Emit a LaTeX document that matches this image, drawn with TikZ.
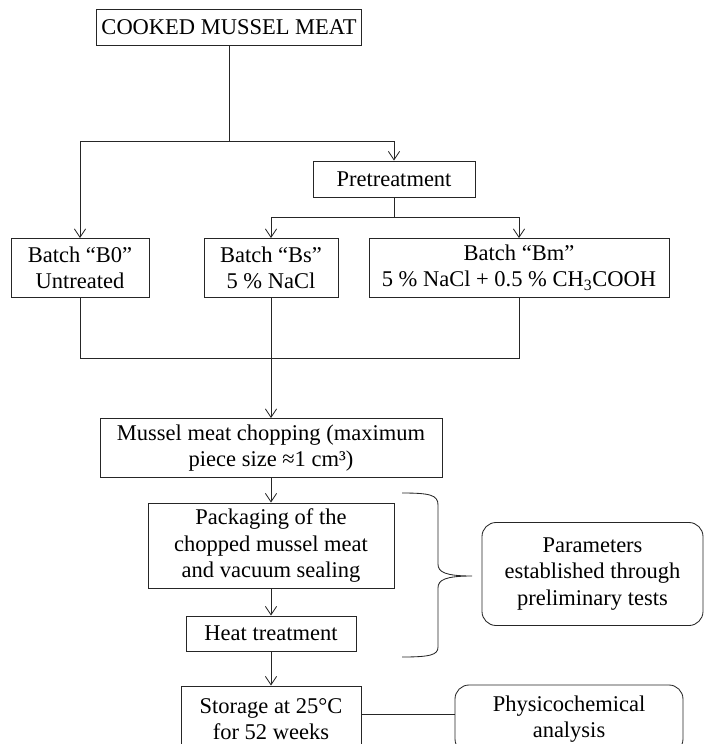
\documentclass[tikz,border=0pt]{standalone}
\usepackage{fontspec}
\setmainfont{Liberation Serif}
\usetikzlibrary{arrows.meta, positioning}

\begin{document}
\begin{tikzpicture}[
  x=0.025cm, y=-0.025cm,
  font=\fontsize{16}{18.6}\selectfont,
  box/.style={rectangle, draw=black!85, line width=0.6pt, align=center, inner sep=0pt},
  rbox/.style={box, rounded corners=10pt},
  wh/.style 2 args={minimum width=#1*0.025cm, minimum height=#2*0.025cm},
  line/.style={draw=black!85, line width=0.6pt},
  arrow/.style={line, -{Straight Barb[length=6pt, width=8pt]}}
]
  \useasboundingbox (0,0) rectangle (704,744);

  \node[box, wh={265}{36}] (cooked) at (229,27)    {COOKED MUSSEL MEAT};
  \node[box, wh={162}{36}] (pre)    at (394,179)   {Pretreatment};
  \node[box, wh={138}{59}] (b0)     at (80,268)    {Batch “B0”\\Untreated};
  \node[box, wh={134}{59}] (bs)     at (271,268)   {Batch “Bs”\\5 \% NaCl};
  \node[box, wh={300}{59}] (bm)     at (519,268)   {Batch “Bm”\\5 \% NaCl + 0.5 \% CH\textsubscript{3}COOH};
  \node[box, wh={342}{59}] (chop)   at (271,448)   {Mussel meat chopping (maximum\\piece size ≈1 cm³)};
  \node[box, wh={246}{85}] (pack)   at (271,545.5) {Packaging of the\\chopped mussel meat\\and vacuum sealing};
  \node[box, wh={170}{35}] (heat)   at (271,633.5) {Heat treatment};
  \node[box, wh={180}{66}] (store)  at (271,719)   {Storage at 25°C\\for 52 weeks};
  \node[rbox, wh={221}{103}] (param) at (592.5,574) {Parameters\\established through\\preliminary tests};
  \node[rbox, wh={228}{68}] (phys)  at (569,719)   {Physicochemical\\analysis};

  \coordinate (split1) at (229,141);
  \coordinate (split2) at (394,217);
  \coordinate (merge)  at (271,358);
  \coordinate (link)   at (0,714);

  \draw[line]  (cooked) -- (split1);
  \draw[arrow] (split1) -| (b0.north);
  \draw[arrow] (split1) -| (pre.north);
  \draw[line]  (pre) -- (split2);
  \draw[arrow] (split2) -| (bs.north);
  \draw[arrow] (split2) -| (bm.north);
  \draw[line]  (b0.south) |- (merge);
  \draw[line]  (bm.south) |- (merge);
  \draw[line]  (bs) -- (merge);
  \draw[arrow] (merge) -- (chop);
  \draw[arrow] (chop) -- (pack);
  \draw[arrow] (pack) -- (heat);
  \draw[arrow] (heat) -- (store);
  \draw[line]  (store.east |- link) -- (phys.west |- link);

  % brace
  \draw[line] (402,493) .. controls (430,493) and (438,495) .. (438,505) -- (438,564)
    .. controls (438,572) and (445,576) .. (472,576)
    .. controls (445,576) and (438,580) .. (438,588) -- (438,647)
    .. controls (438,655) and (430,657) .. (402,657);
\end{tikzpicture}
\end{document}
